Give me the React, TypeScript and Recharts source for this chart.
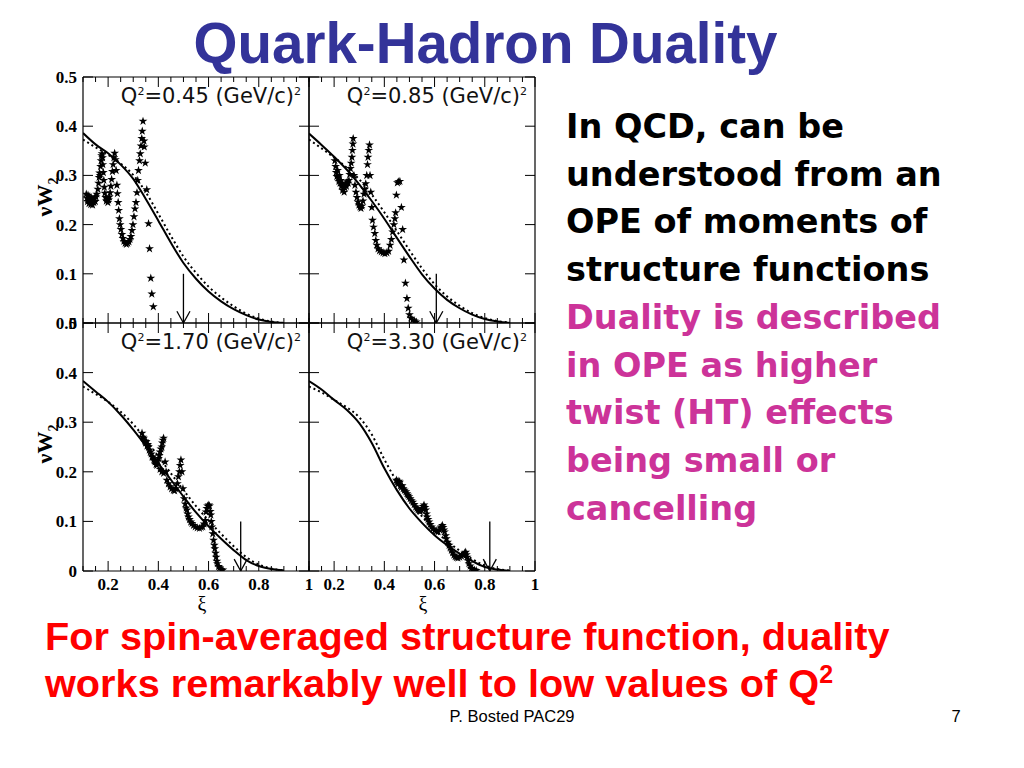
import React from "react";
import { ComposedChart, Line, Scatter, XAxis, YAxis, ZAxis, ReferenceLine } from "recharts";

// xi grid used for the two model curves
const XI_CURVE = [0.1, 0.15, 0.2, 0.25, 0.3, 0.35, 0.4, 0.45, 0.5, 0.55, 0.6, 0.65, 0.7, 0.75, 0.8, 0.85, 0.9];

const X_TICKS = [0.1, 0.15, 0.2, 0.25, 0.3, 0.35, 0.4, 0.45, 0.5, 0.55, 0.6, 0.65, 0.7, 0.75, 0.8, 0.85, 0.9, 0.95, 1];
const X_LABELED = [0.2, 0.4, 0.6, 0.8, 1];
const Y_TICKS = [0, 0.1, 0.2, 0.3, 0.4, 0.5];

const Q2_LABELS = ["0.45", "0.85", "1.70", "3.30"];
const ARROW_XI = [0.5, 0.607, 0.728, 0.82];

// solid = scaling curve, dotted = curve with target mass corrections
const P1_SOLID = [0.386, 0.363, 0.345, 0.322, 0.293, 0.252, 0.208, 0.163, 0.122, 0.09, 0.064, 0.044, 0.028, 0.016, 0.007, 0.002, 0];
const P1_DOTTED = [0.373, 0.357, 0.342, 0.324, 0.301, 0.266, 0.222, 0.177, 0.135, 0.102, 0.074, 0.052, 0.034, 0.019, 0.009, 0.003, 0];
const P2_SOLID = [0.385, 0.362, 0.338, 0.312, 0.282, 0.248, 0.212, 0.173, 0.135, 0.099, 0.07, 0.047, 0.03, 0.017, 0.008, 0.003, 0];
const P2_DOTTED = [0.373, 0.355, 0.336, 0.316, 0.292, 0.261, 0.225, 0.187, 0.148, 0.111, 0.079, 0.054, 0.035, 0.02, 0.01, 0.004, 0.001];
const P3_SOLID = [0.383, 0.362, 0.341, 0.315, 0.285, 0.252, 0.217, 0.184, 0.15, 0.118, 0.09, 0.065, 0.042, 0.022, 0.01, 0.004, 0.001];
const P3_DOTTED = [0.372, 0.357, 0.341, 0.321, 0.296, 0.265, 0.231, 0.197, 0.163, 0.131, 0.102, 0.075, 0.05, 0.028, 0.013, 0.005, 0.001];
const P4_SOLID = [0.383, 0.366, 0.345, 0.325, 0.298, 0.258, 0.207, 0.163, 0.126, 0.097, 0.072, 0.052, 0.035, 0.02, 0.008, 0.003, 0];
const P4_DOTTED = [0.372, 0.36, 0.345, 0.33, 0.31, 0.275, 0.225, 0.18, 0.142, 0.11, 0.083, 0.06, 0.041, 0.024, 0.011, 0.004, 0.001];

// measured nuW2 points [xi, value]
const P1_STARS: [number, number][] = [
  [0.113, 0.262], [0.116, 0.254], [0.118, 0.247], [0.12, 0.26], [0.122, 0.251], [0.124, 0.243], [0.127, 0.256],
  [0.129, 0.248], [0.131, 0.241], [0.133, 0.254], [0.136, 0.247], [0.138, 0.24], [0.14, 0.252], [0.143, 0.245],
  [0.146, 0.254], [0.149, 0.247], [0.152, 0.256], [0.155, 0.262], [0.159, 0.272], [0.162, 0.284], [0.164, 0.296],
  [0.166, 0.305], [0.168, 0.3], [0.17, 0.318], [0.172, 0.33], [0.174, 0.34], [0.176, 0.344], [0.178, 0.336],
  [0.179, 0.322], [0.181, 0.306], [0.183, 0.29], [0.185, 0.276], [0.187, 0.264], [0.19, 0.255], [0.193, 0.248],
  [0.196, 0.252], [0.199, 0.245], [0.202, 0.25], [0.205, 0.256], [0.208, 0.265], [0.211, 0.278], [0.214, 0.292],
  [0.217, 0.308], [0.22, 0.322], [0.223, 0.336], [0.226, 0.345], [0.229, 0.332], [0.232, 0.31], [0.235, 0.28],
  [0.237, 0.263], [0.24, 0.245], [0.242, 0.229], [0.245, 0.212], [0.248, 0.2], [0.251, 0.19], [0.255, 0.18],
  [0.259, 0.172], [0.263, 0.166], [0.268, 0.162], [0.273, 0.16], [0.278, 0.162], [0.283, 0.165], [0.287, 0.17],
  [0.291, 0.176], [0.295, 0.188], [0.299, 0.2], [0.303, 0.216], [0.307, 0.232], [0.311, 0.245], [0.315, 0.265],
  [0.318, 0.29], [0.321, 0.31], [0.325, 0.33], [0.328, 0.344], [0.331, 0.36], [0.334, 0.375], [0.336, 0.39],
  [0.339, 0.41], [0.343, 0.37], [0.344, 0.358], [0.348, 0.325], [0.354, 0.271], [0.361, 0.202], [0.365, 0.151],
  [0.37, 0.091], [0.374, 0.059], [0.38, 0.033],
];
const P2_STARS: [number, number][] = [
  [0.203, 0.33], [0.206, 0.318], [0.208, 0.306], [0.211, 0.298], [0.214, 0.31], [0.216, 0.295], [0.219, 0.288],
  [0.221, 0.3], [0.224, 0.284], [0.227, 0.29], [0.229, 0.278], [0.232, 0.283], [0.234, 0.27], [0.237, 0.279],
  [0.24, 0.266], [0.243, 0.275], [0.246, 0.283], [0.249, 0.278], [0.252, 0.287], [0.256, 0.284], [0.259, 0.29],
  [0.262, 0.302], [0.265, 0.314], [0.268, 0.325], [0.271, 0.337], [0.273, 0.351], [0.275, 0.364], [0.276, 0.375],
  [0.279, 0.3], [0.283, 0.28], [0.287, 0.266], [0.291, 0.255], [0.295, 0.246], [0.299, 0.24], [0.303, 0.236],
  [0.307, 0.233], [0.311, 0.238], [0.315, 0.248], [0.319, 0.262], [0.322, 0.272], [0.326, 0.283], [0.33, 0.3],
  [0.333, 0.322], [0.335, 0.337], [0.338, 0.351], [0.341, 0.362], [0.343, 0.3], [0.346, 0.266], [0.35, 0.235],
  [0.353, 0.209], [0.357, 0.195], [0.362, 0.182], [0.366, 0.168], [0.37, 0.158], [0.375, 0.151], [0.381, 0.147],
  [0.388, 0.145], [0.395, 0.143], [0.402, 0.141], [0.41, 0.143], [0.417, 0.146], [0.423, 0.158], [0.428, 0.17],
  [0.433, 0.185], [0.438, 0.2], [0.442, 0.212], [0.445, 0.224], [0.448, 0.26], [0.452, 0.285], [0.457, 0.287],
  [0.462, 0.288], [0.468, 0.235], [0.473, 0.19], [0.478, 0.128], [0.484, 0.081], [0.49, 0.05], [0.495, 0.03],
  [0.5, 0.017], [0.506, 0.01], [0.513, 0.006], [0.52, 0.004], [0.527, 0.002],
];
const P3_STARS: [number, number][] = [
  [0.335, 0.278], [0.338, 0.27], [0.342, 0.268], [0.346, 0.262], [0.349, 0.258], [0.352, 0.261], [0.355, 0.252],
  [0.358, 0.255], [0.361, 0.25], [0.364, 0.244], [0.368, 0.24], [0.372, 0.236], [0.375, 0.23], [0.378, 0.23],
  [0.382, 0.224], [0.385, 0.222], [0.388, 0.22], [0.391, 0.215], [0.394, 0.213], [0.398, 0.222], [0.401, 0.227],
  [0.404, 0.233], [0.407, 0.24], [0.41, 0.246], [0.414, 0.25], [0.416, 0.258], [0.418, 0.264], [0.421, 0.268],
  [0.407, 0.205], [0.414, 0.2], [0.421, 0.197], [0.427, 0.22], [0.431, 0.2], [0.434, 0.183], [0.44, 0.176],
  [0.447, 0.17], [0.453, 0.166], [0.46, 0.163], [0.465, 0.162], [0.47, 0.166], [0.476, 0.176], [0.48, 0.19],
  [0.484, 0.2], [0.487, 0.213], [0.49, 0.224], [0.494, 0.2], [0.498, 0.166], [0.503, 0.146], [0.507, 0.135],
  [0.511, 0.127], [0.514, 0.123], [0.517, 0.115], [0.52, 0.109], [0.524, 0.104], [0.529, 0.099], [0.534, 0.096],
  [0.54, 0.092], [0.547, 0.089], [0.555, 0.087], [0.564, 0.086], [0.571, 0.088], [0.577, 0.089], [0.582, 0.095],
  [0.587, 0.102], [0.59, 0.119], [0.593, 0.126], [0.596, 0.131], [0.601, 0.133], [0.604, 0.131], [0.607, 0.12],
  [0.609, 0.113], [0.611, 0.1], [0.613, 0.089], [0.617, 0.075], [0.62, 0.062], [0.623, 0.052], [0.625, 0.045],
  [0.628, 0.036], [0.63, 0.028], [0.633, 0.02], [0.635, 0.015], [0.64, 0.009], [0.644, 0.006], [0.65, 0.003],
  [0.657, 0.002],
];
const P4_STARS: [number, number][] = [
  [0.448, 0.183], [0.452, 0.18], [0.455, 0.176], [0.458, 0.181], [0.461, 0.179], [0.464, 0.172], [0.468, 0.169],
  [0.471, 0.172], [0.475, 0.166], [0.48, 0.163], [0.486, 0.16], [0.49, 0.156], [0.494, 0.153], [0.498, 0.15],
  [0.503, 0.146], [0.508, 0.142], [0.514, 0.139], [0.519, 0.134], [0.525, 0.129], [0.53, 0.126], [0.534, 0.123],
  [0.539, 0.121], [0.543, 0.12], [0.547, 0.123], [0.552, 0.126], [0.555, 0.13], [0.558, 0.133], [0.562, 0.128],
  [0.565, 0.123], [0.568, 0.115], [0.57, 0.109], [0.574, 0.104], [0.578, 0.099], [0.583, 0.094], [0.588, 0.089],
  [0.594, 0.085], [0.601, 0.082], [0.607, 0.08], [0.614, 0.079], [0.62, 0.083], [0.624, 0.087], [0.627, 0.089],
  [0.631, 0.092], [0.634, 0.088], [0.637, 0.083], [0.64, 0.079], [0.644, 0.071], [0.647, 0.065], [0.652, 0.058],
  [0.658, 0.052], [0.662, 0.047], [0.667, 0.042], [0.672, 0.037], [0.677, 0.032], [0.682, 0.029], [0.687, 0.027],
  [0.693, 0.026], [0.7, 0.028], [0.707, 0.03], [0.714, 0.032], [0.72, 0.036], [0.724, 0.038], [0.727, 0.033],
  [0.73, 0.028], [0.734, 0.021], [0.737, 0.015], [0.742, 0.01], [0.746, 0.005], [0.752, 0.003], [0.759, 0.002],
  [0.766, 0.001],
];

const BLACK_TEXT = ["In QCD, can be", "understood from an", "OPE of moments of", "structure functions"];
const PINK_TEXT = ["Duality is described", "in OPE as higher", "twist (HT) effects", "being small or", "cancelling"];

const toCurve = (vals: number[]) => XI_CURVE.map((x, i) => ({ x, y: vals[i] }));
const toPoints = (pts: [number, number][]) => pts.map(([x, y]) => ({ x, y }));

const serif = "'Liberation Serif', 'Times New Roman', serif";
const sans = "'Liberation Sans', Arial, sans-serif";

const tickFont: React.CSSProperties = { fontFamily: serif, fontWeight: 700, fontSize: 17, fill: "#000" };

// axes are 1px thick, so plot area starts 10px / 60px in from the chart corner
const MARGIN = { top: 9, right: 9, bottom: 39, left: 59 };
const PLOT_TOP = 10;
const PLOT_LEFT = 60;

function Panel({ left, top, w, h, solid, dotted, stars, arrow, q2, xLabels, yLabels }: any) {
  const bottomTick = (p: any) => {
    const major = X_LABELED.indexOf(p.payload.value) >= 0;
    return (
      <g>
        <line x1={p.x} x2={p.x} y1={p.y} y2={p.y - (major ? 10 : 5)} stroke="#000" />
        {xLabels && major ? (
          <text x={p.x} y={p.y + 19} textAnchor="middle" style={tickFont}>{String(p.payload.value)}</text>
        ) : null}
      </g>
    );
  };
  const topTick = (p: any) => {
    const major = X_LABELED.indexOf(p.payload.value) >= 0;
    return <line x1={p.x} x2={p.x} y1={p.y} y2={p.y + (major ? 10 : 5)} stroke="#000" />;
  };
  const leftTick = (p: any) => (
    <g>
      <line x1={p.x} x2={p.x + 10} y1={p.y} y2={p.y} stroke="#000" />
      {yLabels ? (
        <text x={p.x - 6} y={p.y} dy="0.35em" textAnchor="end" style={tickFont}>{String(p.payload.value)}</text>
      ) : null}
    </g>
  );
  const rightTick = (p: any) => <line x1={p.x} x2={p.x - 10} y1={p.y} y2={p.y} stroke="#000" />;

  const head = 0.026;
  const axisLine = { stroke: "#000", strokeWidth: 1.2 };
  const common = { tickSize: 0, tickMargin: 0, tickLine: false, axisLine, allowDataOverflow: true, interval: 0 as const };

  return (
    <div style={{ position: "absolute", left: left - PLOT_LEFT, top: top - PLOT_TOP }}>
      <ComposedChart width={w + 70} height={h + 50} margin={MARGIN}>
        <XAxis dataKey="x" type="number" domain={[0.1, 1]} ticks={X_TICKS} height={1} tick={bottomTick} {...common} />
        <XAxis xAxisId="top" orientation="top" dataKey="x" type="number" domain={[0.1, 1]} ticks={X_TICKS}
          height={1} tick={topTick} {...common} />
        <YAxis dataKey="y" type="number" domain={[0, 0.5]} ticks={Y_TICKS} width={1} tick={leftTick} {...common} />
        <YAxis yAxisId="right" orientation="right" dataKey="y" type="number" domain={[0, 0.5]} ticks={Y_TICKS}
          width={1} tick={rightTick} {...common} />
        <ZAxis range={[24, 24]} />
        <Line data={toCurve(dotted)} dataKey="y" type="monotone" stroke="#000" strokeWidth={2}
          strokeDasharray="2 3" dot={false} isAnimationActive={false} />
        <Line data={toCurve(solid)} dataKey="y" type="monotone" stroke="#000" strokeWidth={2}
          dot={false} isAnimationActive={false} />
        <Scatter data={toPoints(stars)} shape="star" fill="#000" isAnimationActive={false} />
        <ReferenceLine segment={[{ x: arrow, y: 0.1 }, { x: arrow, y: 0 }]} stroke="#000" strokeWidth={1.3} ifOverflow="visible" />
        <ReferenceLine segment={[{ x: arrow - head, y: 0.024 }, { x: arrow, y: 0 }]} stroke="#000" strokeWidth={1.3} ifOverflow="visible" />
        <ReferenceLine segment={[{ x: arrow + head, y: 0.024 }, { x: arrow, y: 0 }]} stroke="#000" strokeWidth={1.3} ifOverflow="visible" />
      </ComposedChart>
      <div style={{
        position: "absolute", right: 18, top: PLOT_TOP + 7,
        fontFamily: "'DejaVu Sans', Verdana, sans-serif", fontSize: 21, color: "#111", whiteSpace: "nowrap",
      }}>
        Q<sup style={{ fontSize: 11 }}>2</sup>={q2} (GeV/c)<sup style={{ fontSize: 11 }}>2</sup>
      </div>
    </div>
  );
}

function AxisTitleY({ cy }: { cy: number }) {
  return (
    <div style={{
      position: "absolute", left: 47, top: cy, transform: "translate(-50%, -50%) rotate(-90deg)",
      fontFamily: serif, fontWeight: 700, fontSize: 22, whiteSpace: "nowrap", color: "#000",
    }}>
      νW<sub style={{ fontSize: 14 }}>2</sub>
    </div>
  );
}

export default function App() {
  const panels = [
    { left: 83, top: 77, h: 246, solid: P1_SOLID, dotted: P1_DOTTED, stars: P1_STARS, xLabels: false, yLabels: true },
    { left: 309, top: 77, h: 246, solid: P2_SOLID, dotted: P2_DOTTED, stars: P2_STARS, xLabels: false, yLabels: false },
    { left: 83, top: 323, h: 248, solid: P3_SOLID, dotted: P3_DOTTED, stars: P3_STARS, xLabels: true, yLabels: true },
    { left: 309, top: 323, h: 248, solid: P4_SOLID, dotted: P4_DOTTED, stars: P4_STARS, xLabels: true, yLabels: false },
  ];
  return (
    <div style={{ position: "absolute", left: 0, top: 0, width: 1024, height: 768, background: "#fff", overflow: "hidden" }}>
      <div style={{
        position: "absolute", left: 0, width: 971, top: 12, textAlign: "center",
        fontFamily: sans, fontWeight: 700, fontSize: 56.5, color: "#333399", lineHeight: "64px",
      }}>
        Quark-Hadron Duality
      </div>

      {panels.map((p, i) => (
        <Panel key={i} {...p} w={226} arrow={ARROW_XI[i]} q2={Q2_LABELS[i]} />
      ))}

      <AxisTitleY cy={197} />
      <AxisTitleY cy={444} />
      <div style={{ position: "absolute", left: 202, top: 604, transform: "translate(-50%, -50%)", fontFamily: serif, fontSize: 20, lineHeight: "20px" }}>ξ</div>
      <div style={{ position: "absolute", left: 423, top: 604, transform: "translate(-50%, -50%)", fontFamily: serif, fontSize: 20, lineHeight: "20px" }}>ξ</div>

      <div style={{
        position: "absolute", left: 566, top: 103, fontFamily: "'DejaVu Sans', sans-serif", fontWeight: 700,
        fontSize: 33.5, lineHeight: "47.7px", whiteSpace: "nowrap",
      }}>
        {BLACK_TEXT.map((t) => <div key={t} style={{ color: "#000" }}>{t}</div>)}
        {PINK_TEXT.map((t) => <div key={t} style={{ color: "#CC3399" }}>{t}</div>)}
      </div>

      <div style={{
        position: "absolute", left: 45, top: 613, fontFamily: sans, fontWeight: 700,
        fontSize: 39.7, lineHeight: "47px", color: "#FF0000", whiteSpace: "nowrap",
      }}>
        <div>For spin-averaged structure function, duality</div>
        <div>works remarkably well to low values of Q<sup style={{ fontSize: 25, lineHeight: 0 }}>2</sup></div>
      </div>

      <div style={{ position: "absolute", left: 512, top: 716, transform: "translate(-50%, -50%)", fontFamily: sans, fontSize: 16.5, whiteSpace: "nowrap" }}>
        P. Bosted PAC29
      </div>
      <div style={{ position: "absolute", left: 956, top: 716, transform: "translate(-50%, -50%)", fontFamily: sans, fontSize: 16.5 }}>
        7
      </div>
    </div>
  );
}
